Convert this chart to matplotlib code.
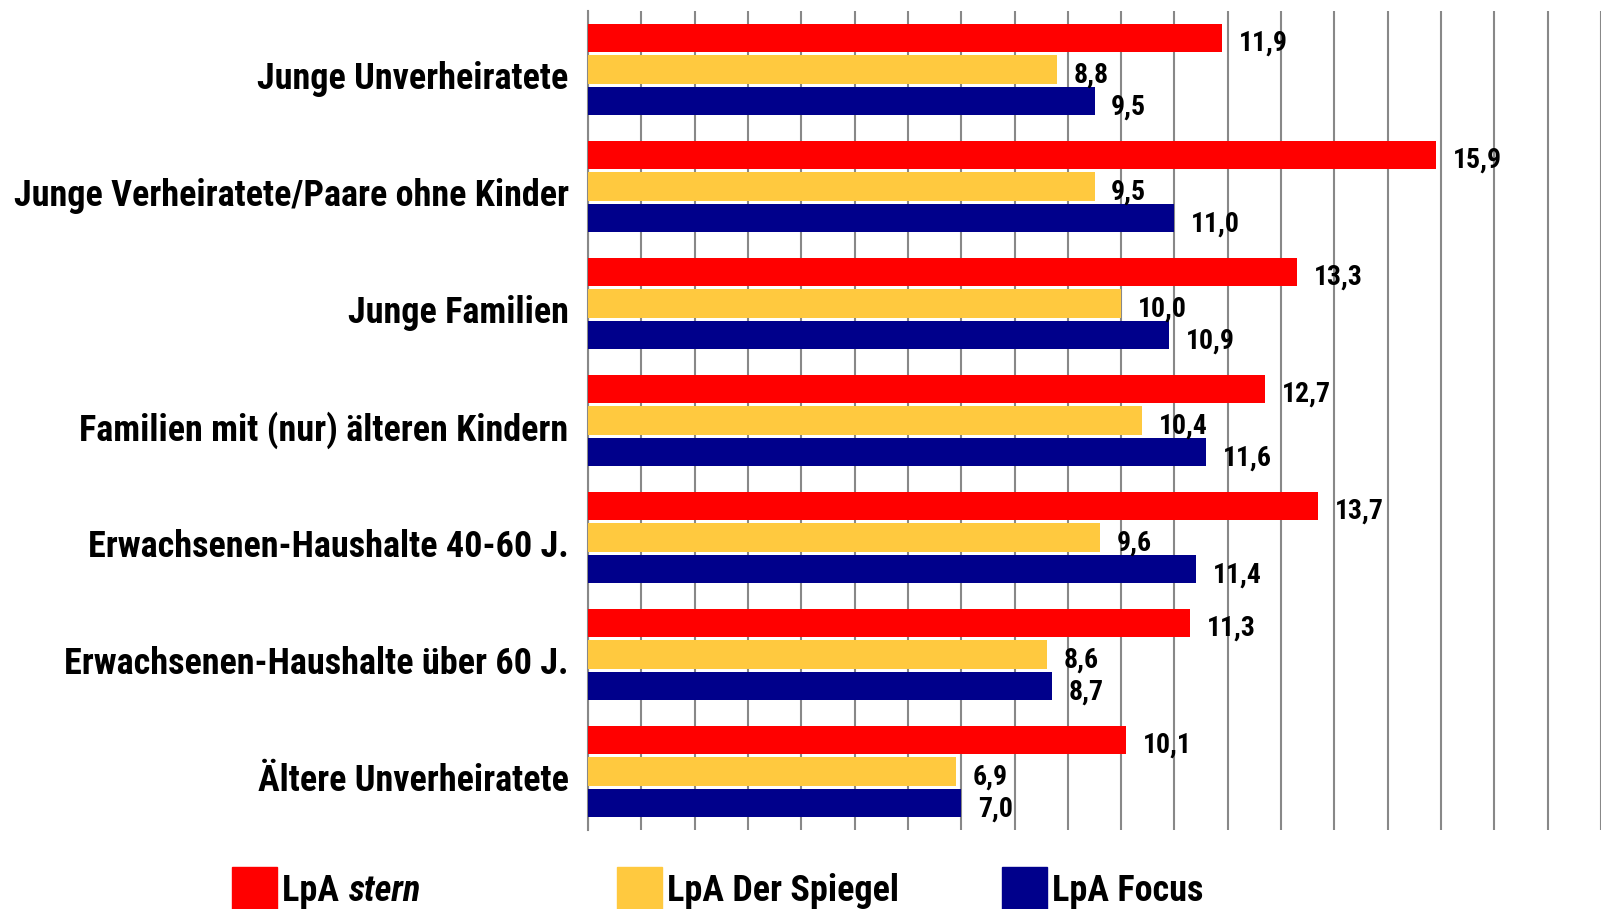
import matplotlib
matplotlib.use("Agg")
import matplotlib.pyplot as plt
import matplotlib.transforms as mtransforms
from matplotlib.patches import Rectangle

plt.rcParams['font.family'] = ['Roboto Condensed', 'DejaVu Sans']
plt.rcParams['font.weight'] = 'bold'

categories = ["Junge Unverheiratete",
              "Junge Verheiratete/Paare ohne Kinder",
              "Junge Familien",
              "Familien mit (nur) älteren Kindern",
              "Erwachsenen-Haushalte 40-60 J.",
              "Erwachsenen-Haushalte über 60 J.",
              "Ältere Unverheiratete"]
stern = [11.9, 15.9, 13.3, 12.7, 13.7, 11.3, 10.1]
spiegel = [8.8, 9.5, 10.0, 10.4, 9.6, 8.6, 6.9]
focus = [9.5, 11.0, 10.9, 11.6, 11.4, 8.7, 7.0]
series = [("LpA ", "stern", stern, "#ff0000"),
          ("LpA Der Spiegel", "", spiegel, "#ffc93f"),
          ("LpA Focus", "", focus, "#00008b")]

fig = plt.figure(figsize=(16.07, 9.09), dpi=100)
ax = fig.add_axes([588/1607, 1-830/909, (1601-588)/1607, 819/909])

h = 0.24
step = 0.27
for k, (lab, it, vals, col) in enumerate(series):
    ys = [i + (k-1)*step for i in range(len(categories))]
    ax.barh(ys, vals, height=h, color=col, zorder=3)
    for y, v in zip(ys, vals):
        ax.annotate(f"{v:.1f}".replace('.', ','), (v, y), xytext=(12, -4),
                    textcoords='offset points', va='center', ha='left',
                    fontsize=20, fontweight='bold', zorder=4)

ax.set_xlim(0, 19)
ax.set_ylim(len(categories)-0.5, -0.5)
ax.set_xticks(range(0, 20))
ax.xaxis.grid(True, color='#888888', linewidth=1.5, zorder=0)
ax.tick_params(axis='x', length=0, labelbottom=False)
ax.tick_params(axis='y', length=0, pad=14)
ax.set_yticks(range(len(categories)))
ax.set_yticklabels(categories, fontsize=26, fontweight='bold')
shift = mtransforms.ScaledTranslation(0, -4/72, fig.dpi_scale_trans)
for t in ax.get_yticklabels():
    t.set_transform(t.get_transform() + shift)
for s in ['top', 'right', 'bottom']:
    ax.spines[s].set_visible(False)
ax.spines['left'].set_color('#888888')
ax.spines['left'].set_linewidth(1.5)

# legend drawn by hand
fig.canvas.draw()
r = fig.canvas.get_renderer()
x0 = 232
for lab, it, vals, col in series:
    fig.patches.append(Rectangle((x0/1607, 0), 45/1607, 42/909, transform=fig.transFigure,
                                 color=col, clip_on=False))
    t = fig.text((x0+50)/1607, 8/909, lab, fontsize=26, fontweight='bold', va='baseline')
    if it:
        bb = t.get_window_extent(r)
        fig.text(bb.x1/1607 + 2/1607, 8/909, it, fontsize=26, fontweight='bold',
                 style='italic', va='baseline')
    x0 += 385

fig.savefig("out.png", dpi=100)
